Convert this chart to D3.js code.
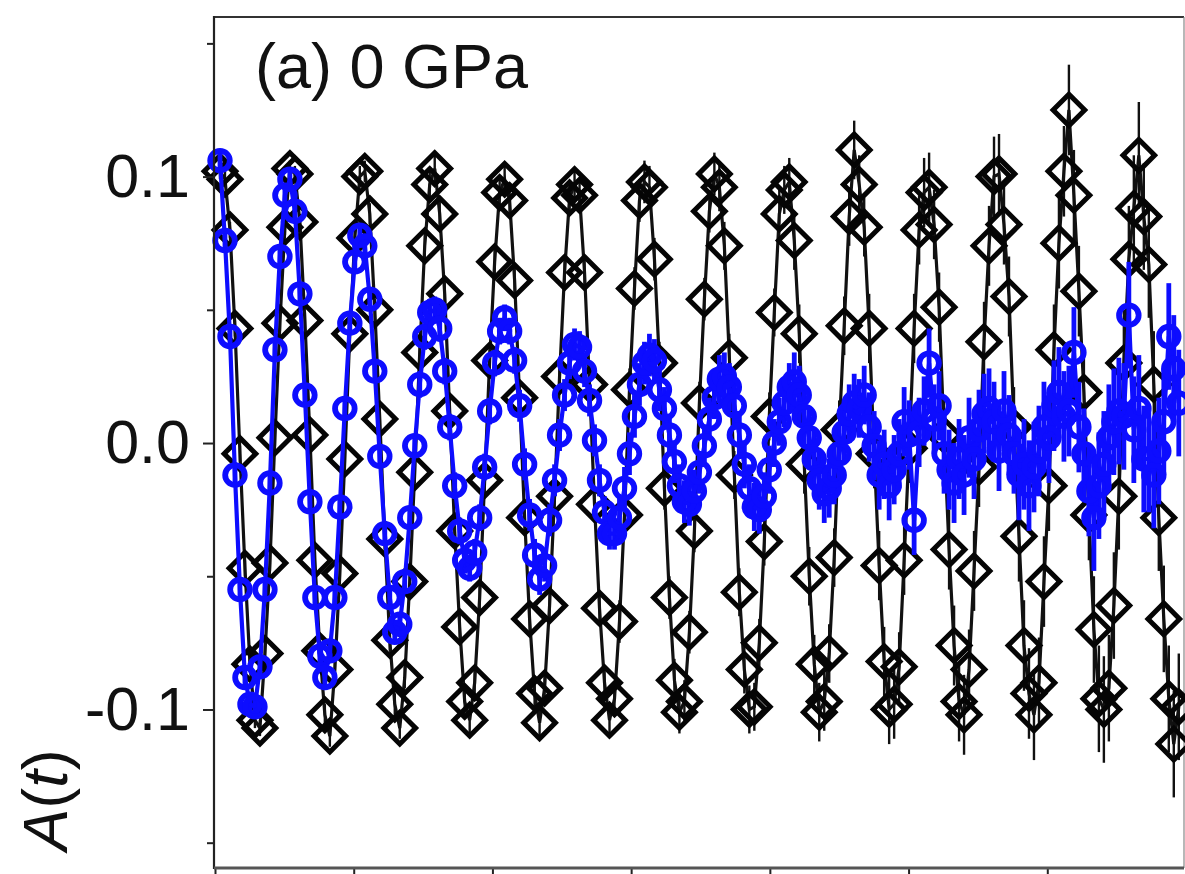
<!DOCTYPE html>
<html><head><meta charset="utf-8">
<script src="https://cdn.jsdelivr.net/npm/d3@7"></script>
<style>html,body{margin:0;padding:0;background:#fff;overflow:hidden}</style>
</head><body>
<svg id="chart" width="1185" height="874"></svg>
<script>
// time bins (µs)
const timeUs = [
0.036,0.072,0.108,0.144,0.180,0.216,0.252,0.288,0.324,0.360,
0.396,0.432,0.468,0.504,0.540,0.576,0.612,0.648,0.684,0.720,
0.756,0.792,0.828,0.864,0.900,0.936,0.972,1.008,1.044,1.080,
1.116,1.152,1.188,1.224,1.260,1.296,1.332,1.368,1.404,1.440,
1.476,1.512,1.548,1.584,1.620,1.656,1.692,1.728,1.764,1.800,
1.836,1.872,1.908,1.944,1.980,2.016,2.052,2.088,2.124,2.160,
2.196,2.232,2.268,2.304,2.340,2.376,2.412,2.448,2.484,2.520,
2.556,2.592,2.628,2.664,2.700,2.736,2.772,2.808,2.844,2.880,
2.916,2.952,2.988,3.024,3.060,3.096,3.132,3.168,3.204,3.240,
3.276,3.312,3.348,3.384,3.420,3.456,3.492,3.528,3.564,3.600,
3.636,3.672,3.708,3.744,3.780,3.816,3.852,3.888,3.924,3.960,
3.996,4.032,4.068,4.104,4.140,4.176,4.212,4.248,4.284,4.320,
4.356,4.392,4.428,4.464,4.500,4.536,4.572,4.608,4.644,4.680,
4.716,4.752,4.788,4.824,4.860,4.896,4.932,4.968,5.004,5.040,
5.076,5.112,5.148,5.184,5.220,5.256,5.292,5.328,5.364,5.400,
5.436,5.472,5.508,5.544,5.580,5.616,5.652,5.688,5.724,5.760,
5.796,5.832,5.868,5.904,5.940,5.976,6.012,6.048,6.084,6.120,
6.156,6.192,6.228,6.264,6.300,6.336,6.372,6.408,6.444,6.480,
6.516,6.552,6.588,6.624,6.660,6.696,6.732,6.768,6.804,6.840,
6.876,6.912,6.948];

// black diamonds A(t)
const blackA = [
0.102,0.099,0.080,0.043,-0.004,-0.047,-0.083,-0.104,-0.107,-0.079,
-0.045,0.002,0.045,0.081,0.103,0.101,0.083,0.046,0.003,-0.044,
-0.078,-0.102,-0.110,-0.085,-0.049,-0.006,0.041,0.077,0.100,0.102,
0.086,0.050,0.009,-0.036,-0.074,-0.098,-0.107,-0.088,-0.052,-0.011,
0.034,0.074,0.097,0.103,0.086,0.056,0.012,-0.033,-0.069,-0.097,
-0.104,-0.090,-0.058,-0.014,0.031,0.068,0.094,0.099,0.091,0.061,
0.017,-0.028,-0.066,-0.094,-0.105,-0.092,-0.061,-0.020,0.025,0.064,
0.092,0.097,0.093,0.064,0.022,-0.023,-0.062,-0.090,-0.104,-0.096,
-0.067,-0.027,0.020,0.058,0.091,0.098,0.096,0.069,0.030,-0.017,
-0.058,-0.089,-0.101,-0.097,-0.071,-0.033,0.015,0.054,0.087,0.101,
0.096,0.074,0.032,-0.012,-0.056,-0.085,-0.100,-0.099,-0.075,-0.037,
0.010,0.049,0.086,0.095,0.098,0.076,0.041,-0.008,-0.050,-0.083,
-0.101,-0.097,-0.079,-0.043,0.005,0.044,0.085,0.110,0.097,0.081,
0.043,-0.004,-0.046,-0.082,-0.100,-0.098,-0.084,-0.044,-0.002,0.043,
0.080,0.094,0.096,0.082,0.051,0.003,-0.040,-0.076,-0.097,-0.102,
-0.085,-0.048,-0.009,0.038,0.074,0.100,0.101,0.082,0.055,0.006,
-0.035,-0.076,-0.094,-0.102,-0.090,-0.052,-0.016,0.035,0.075,0.102,
0.125,0.093,0.057,0.019,-0.027,-0.070,-0.096,-0.100,-0.092,-0.061,
-0.020,0.030,0.069,0.088,0.108,0.085,0.067,0.022,-0.028,-0.066,
-0.096,-0.113,-0.099];

// blue circles A(t)
const blueA = [
0.106,0.076,0.040,-0.012,-0.055,-0.088,-0.098,-0.099,-0.084,-0.055,
-0.015,0.035,0.070,0.093,0.099,0.087,0.056,0.018,-0.022,-0.058,
-0.080,-0.088,-0.078,-0.058,-0.024,0.013,0.045,0.068,0.078,0.074,
0.054,0.027,-0.005,-0.034,-0.058,-0.071,-0.068,-0.052,-0.028,-0.001,
0.022,0.040,0.049,0.050,0.043,0.027,0.006,-0.016,-0.033,-0.044,
-0.047,-0.041,-0.028,-0.009,0.012,0.030,0.042,0.047,0.042,0.031,
0.014,-0.008,-0.027,-0.042,-0.051,-0.046,-0.029,-0.014,0.003,0.018,
0.030,0.037,0.036,0.027,0.016,0.001,-0.014,-0.026,-0.034,-0.034,
-0.028,-0.017,-0.004,0.010,0.022,0.030,0.033,0.031,0.020,0.013,
0.003,-0.007,-0.016,-0.022,-0.023,-0.018,-0.011,-0.001,0.009,0.017,
0.024,0.025,0.021,0.014,0.003,-0.008,-0.017,-0.024,-0.025,-0.020,
-0.010,0.000,0.008,0.015,0.021,0.023,0.018,0.010,0.002,-0.006,
-0.014,-0.019,-0.017,-0.012,-0.004,0.004,0.011,0.015,0.013,0.018,
0.006,-0.001,-0.012,-0.008,-0.016,-0.010,-0.004,0.008,0.003,-0.029,
0.004,0.012,0.030,0.009,0.014,-0.004,-0.010,-0.015,-0.006,-0.012,
0.002,-0.006,0.005,0.011,0.013,0.008,-0.003,0.012,0.003,-0.004,
-0.012,-0.008,-0.016,-0.009,-0.003,0.006,0.002,0.014,0.019,0.010,
0.012,0.034,0.006,-0.004,-0.018,-0.028,-0.016,-0.008,0.002,0.008,
0.012,0.010,0.048,0.005,0.013,-0.006,-0.006,-0.012,-0.003,0.008,
0.040,0.028,0.015];

// statistical error of each bin
const errA = [
0.003,0.003,0.003,0.003,0.003,0.003,0.003,0.003,0.003,0.003,
0.003,0.003,0.003,0.003,0.003,0.003,0.003,0.003,0.003,0.003,
0.004,0.004,0.004,0.004,0.004,0.004,0.004,0.004,0.004,0.004,
0.004,0.004,0.004,0.004,0.004,0.004,0.004,0.004,0.004,0.004,
0.005,0.005,0.005,0.005,0.005,0.005,0.005,0.005,0.005,0.005,
0.005,0.005,0.005,0.005,0.005,0.005,0.005,0.005,0.005,0.005,
0.006,0.006,0.006,0.006,0.006,0.006,0.006,0.006,0.006,0.006,
0.006,0.006,0.006,0.006,0.006,0.006,0.006,0.006,0.006,0.006,
0.008,0.008,0.008,0.008,0.008,0.008,0.008,0.008,0.008,0.008,
0.008,0.008,0.008,0.008,0.008,0.008,0.008,0.008,0.008,0.008,
0.009,0.009,0.009,0.009,0.009,0.009,0.009,0.009,0.009,0.009,
0.009,0.009,0.009,0.009,0.009,0.011,0.011,0.011,0.011,0.011,
0.011,0.011,0.011,0.011,0.011,0.011,0.011,0.011,0.011,0.011,
0.013,0.013,0.013,0.013,0.013,0.013,0.013,0.013,0.013,0.013,
0.013,0.013,0.013,0.013,0.013,0.015,0.015,0.015,0.015,0.015,
0.015,0.015,0.015,0.015,0.015,0.015,0.015,0.015,0.015,0.015,
0.017,0.017,0.017,0.017,0.017,0.017,0.017,0.017,0.017,0.017,
0.017,0.017,0.017,0.017,0.017,0.020,0.020,0.020,0.020,0.020,
0.020,0.020,0.020,0.020,0.020,0.020,0.020,0.020,0.020,0.020,
0.020,0.020,0.020];

const yMajorTicks = [-0.1, 0.0, 0.1];
const yMinorTicks = [-0.15, -0.05, 0.05, 0.15];
const xTicks = [0, 1, 2, 3, 4, 5, 6, 7];
const panelLabel = "(a) 0 GPa";

const FONT = "'Liberation Sans', Arial, Helvetica, sans-serif";
const BLUE = "#0d0dff";
const svg = d3.select("#chart");
const L = 214, R = 1184, T = 17, B = 868;

const x = d3.scaleLinear().domain([0, 7]).range([215, 1186]);
const y = d3.scaleLinear().domain([-0.1595, 0.1599]).range([B, T]);

const blackData = timeUs.map((t, i) => ({t, a: blackA[i], e: errA[i]}));
const blueData = timeUs.map((t, i) => ({t, a: blueA[i], e: errA[i]}));

// frame
svg.append("line").attr("x1", L).attr("x2", R).attr("y1", T).attr("y2", T)
  .attr("stroke", "#333").attr("stroke-width", 2);
svg.append("line").attr("x1", R).attr("x2", R).attr("y1", T).attr("y2", B)
  .attr("stroke", "#888").attr("stroke-width", 1.2);

const line = d3.line().x(d => x(d.t)).y(d => y(d.a));

// black series
const gB = svg.append("g");
gB.selectAll("line.err").data(blackData).join("line").attr("class", "err")
  .attr("x1", d => x(d.t)).attr("x2", d => x(d.t))
  .attr("y1", d => y(d.a - d.e)).attr("y2", d => y(d.a + d.e))
  .attr("stroke", "#111").attr("stroke-width", 2.4);
gB.append("path").datum(blackData).attr("d", line)
  .attr("fill", "none").attr("stroke", "#111").attr("stroke-width", 3.2);
const diamond = d3.symbol().type(d3.symbolSquare).size(500);
gB.selectAll("path.m").data(blackData).join("path").attr("class", "m")
  .attr("d", diamond)
  .attr("transform", d => `translate(${x(d.t)},${y(d.a)}) rotate(45)`)
  .attr("fill", "none").attr("stroke", "#050505").attr("stroke-width", 5);

// blue series
const gU = svg.append("g");
gU.selectAll("line.err").data(blueData).join("line").attr("class", "err")
  .attr("x1", d => x(d.t)).attr("x2", d => x(d.t))
  .attr("y1", d => y(d.a - d.e)).attr("y2", d => y(d.a + d.e))
  .attr("stroke", BLUE).attr("stroke-width", 4.8);
gU.append("path").datum(blueData).attr("d", line)
  .attr("fill", "none").attr("stroke", BLUE).attr("stroke-width", 4.2);
gU.selectAll("circle").data(blueData).join("circle")
  .attr("cx", d => x(d.t)).attr("cy", d => y(d.a)).attr("r", 9.8)
  .attr("fill", "none").attr("stroke", BLUE).attr("stroke-width", 5.8);

// axes
const yAx = svg.append("g").attr("transform", `translate(${L},0)`)
  .call(d3.axisLeft(y).tickValues(yMajorTicks).tickSize(11).tickPadding(13)
    .tickFormat(d => d.toFixed(1)));
yAx.select(".domain").remove();
yAx.selectAll("line").attr("stroke", "#222").attr("stroke-width", 2);
yAx.selectAll("text").attr("font-family", FONT).attr("font-size", 61).attr("fill", "#111");

const yMin = svg.append("g").attr("transform", `translate(${L},0)`)
  .call(d3.axisLeft(y).tickValues(yMinorTicks).tickSize(7).tickFormat(""));
yMin.select(".domain").remove();
yMin.selectAll("line").attr("stroke", "#222").attr("stroke-width", 2);

const xAx = svg.append("g").attr("transform", `translate(0,${B})`)
  .call(d3.axisBottom(x).tickValues(xTicks).tickSize(9).tickFormat(""));
xAx.select(".domain").remove();
xAx.selectAll("line").attr("stroke", "#222").attr("stroke-width", 2);

svg.append("line").attr("x1", L).attr("x2", L).attr("y1", T - 1).attr("y2", B + 1)
  .attr("stroke", "#222").attr("stroke-width", 2.2);
svg.append("line").attr("x1", L).attr("x2", R).attr("y1", B).attr("y2", B)
  .attr("stroke", "#555").attr("stroke-width", 3);

// panel label
svg.append("text").attr("x", 255).attr("y", 88)
  .attr("font-family", FONT).attr("font-size", 63).attr("fill", "#111")
  .text(panelLabel);

// y-axis title A(t)
const yt = svg.append("text").attr("transform", "translate(67,800) rotate(-90)")
  .attr("text-anchor", "middle").attr("font-family", FONT)
  .attr("font-size", 63).attr("fill", "#111");
yt.append("tspan").attr("font-style", "italic").text("A");
yt.append("tspan").text("(");
yt.append("tspan").attr("font-style", "italic").text("t");
yt.append("tspan").text(")");
</script>
</body></html>
